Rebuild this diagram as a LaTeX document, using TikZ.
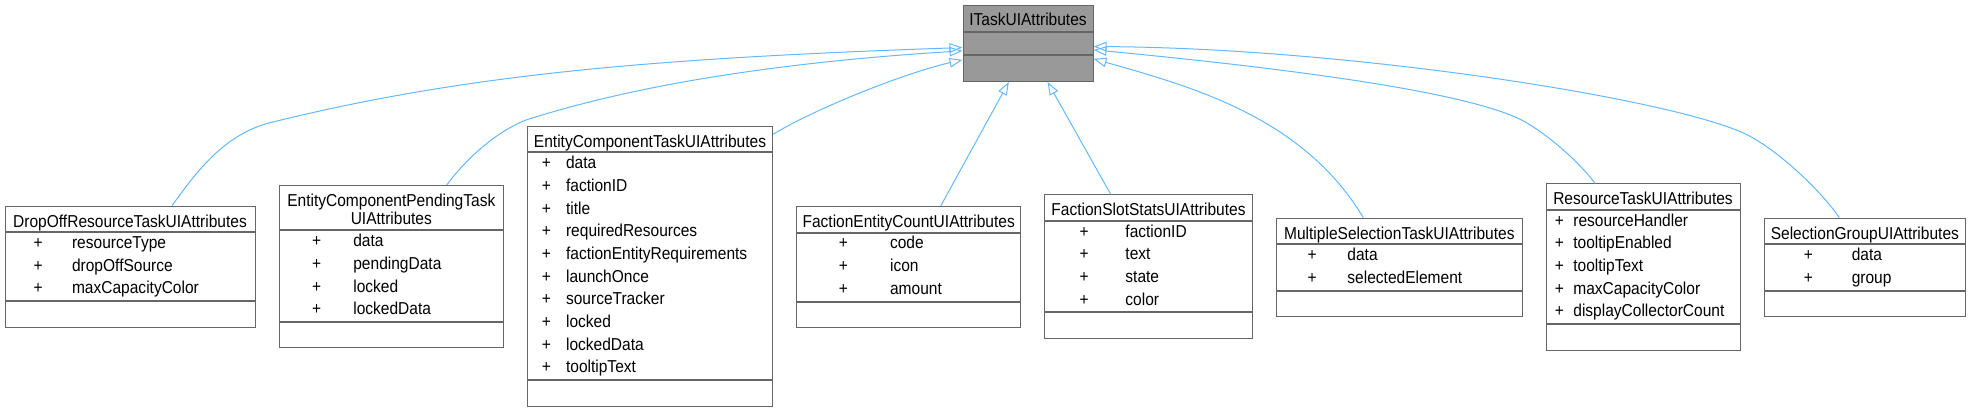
\documentclass[tikz,border=0pt]{standalone}
\usepackage{fontspec}
\setmainfont{Liberation Sans}[FakeStretch=0.9]
\usepackage{xcolor}
\usepackage{tikz}
\usetikzlibrary{arrows.meta}

\definecolor{edgeblue}{HTML}{63B8FF}
\definecolor{boxline}{HTML}{666666}
\definecolor{basegray}{HTML}{999999}

\begin{document}
\begin{tikzpicture}[
    x=1pt, y=-1pt,
    box/.style={rectangle, draw=boxline, fill=white, line width=1pt, inner sep=0pt, anchor=north},
    title/.style={box, align=center, text height=21pt, text depth=4.5pt, font=\fontsize{17.25}{17.6}\selectfont},
    attrs/.style={box, align=left, font=\fontsize{17.25}{22.67}\selectfont},
    ops/.style={box, minimum height=25.5pt},
    rel/.style={-{Triangle[open, length=13pt, width=9.5pt]}, line width=1pt, draw=edgeblue},
]
    \useasboundingbox (0,0) rectangle (1971,409);

    % ITaskUIAttributes (base class)
    \node[title, text width=130pt, fill=basegray, text height=20.5pt, text depth=5.5pt] (it) at (1028,5) {ITaskUIAttributes};
    \node[box, text width=130pt, fill=basegray, minimum height=21.7pt] (ia) at (it.south) {};
    \node[box, text width=130pt, fill=basegray, minimum height=26.3pt] (im) at (ia.south) {};

    % DropOffResourceTaskUIAttributes
    \node[title, text width=250pt] (dt) at (130,205.7) {DropOffResourceTaskUIAttributes};
    \node[attrs, text width=250pt] (da) at (dt.south) {\begin{tabular}{@{\hspace{28.5pt}}c@{\hspace{29.5pt}}l@{}}
        + & resourceType\\ + & dropOffSource\\ + & maxCapacityColor\end{tabular}};
    \node[ops, text width=250pt] (dm) at (da.south) {};

    % EntityComponentPendingTaskUIAttributes
    \node[title, text width=224pt, text depth=23.3pt] (pt) at (391.3,185) {EntityComponentPendingTask\\UIAttributes};
    \node[attrs, text width=224pt] (pa) at (pt.south) {\begin{tabular}{@{\hspace{32.9pt}}c@{\hspace{32.1pt}}l@{}}
        + & data\\ + & pendingData\\ + & locked\\ + & lockedData\end{tabular}};
    \node[ops, text width=224pt] (pm) at (pa.south) {};

    % EntityComponentTaskUIAttributes
    \node[title, text width=245.4pt] (et) at (650,126) {EntityComponentTaskUIAttributes};
    \node[attrs, text width=245.4pt] (ea) at (et.south) {\begin{tabular}{@{\hspace{14.5pt}}c@{\hspace{15.2pt}}l@{}}
        + & data\\ + & factionID\\ + & title\\ + & requiredResources\\ + & factionEntityRequirements\\
        + & launchOnce\\ + & sourceTracker\\ + & locked\\ + & lockedData\\ + & tooltipText\end{tabular}};
    \node[ops, text width=245.4pt] (em) at (ea.south) {};

    % FactionEntityCountUIAttributes
    \node[title, text width=224pt] (ft) at (908.7,206) {FactionEntityCountUIAttributes};
    \node[attrs, text width=224pt] (fa) at (ft.south) {\begin{tabular}{@{\hspace{42.1pt}}c@{\hspace{42.2pt}}l@{}}
        + & code\\ + & icon\\ + & amount\end{tabular}};
    \node[ops, text width=224pt] (fm) at (fa.south) {};

    % FactionSlotStatsUIAttributes
    \node[title, text width=207.6pt] (st) at (1148.5,194.3) {FactionSlotStatsUIAttributes};
    \node[attrs, text width=207.6pt] (sa) at (st.south) {\begin{tabular}{@{\hspace{34.8pt}}c@{\hspace{36.9pt}}l@{}}
        + & factionID\\ + & text\\ + & state\\ + & color\end{tabular}};
    \node[ops, text width=207.6pt] (sm) at (sa.south) {};

    % MultipleSelectionTaskUIAttributes
    \node[title, text width=245.3pt] (mt) at (1399.35,217.7) {MultipleSelectionTaskUIAttributes};
    \node[attrs, text width=245.3pt] (ma) at (mt.south) {\begin{tabular}{@{\hspace{30.8pt}}c@{\hspace{30.9pt}}l@{}}
        + & data\\ + & selectedElement\end{tabular}};
    \node[ops, text width=245.3pt] (mm) at (ma.south) {};

    % ResourceTaskUIAttributes
    \node[title, text width=194pt] (rt) at (1643,183.3) {ResourceTaskUIAttributes};
    \node[attrs, text width=194pt] (ra) at (rt.south) {\begin{tabular}{@{\hspace{8.8pt}}c@{\hspace{9.5pt}}l@{}}
        + & resourceHandler\\ + & tooltipEnabled\\ + & tooltipText\\ + & maxCapacityColor\\ + & displayCollectorCount\end{tabular}};
    \node[ops, text width=194pt] (rm) at (ra.south) {};

    % SelectionGroupUIAttributes
    \node[title, text width=201.7pt] (gt) at (1864.85,217.7) {SelectionGroupUIAttributes};
    \node[attrs, text width=201.7pt] (ga) at (gt.south) {\begin{tabular}{@{\hspace{39.8pt}}c@{\hspace{38.9pt}}l@{}}
        + & data\\ + & group\end{tabular}};
    \node[ops, text width=201.7pt] (gm) at (ga.south) {};

    % Inheritance
    \draw[rel] ([xshift=42pt]dt.north) .. controls (197,171) and (224,135) .. (269,123)
        .. controls (469,73) and (663,58) .. ([yshift=-4.2pt]ia.west);
    \draw[rel] ([xshift=55.4pt]pt.north) .. controls (466.7,158) and (496,132) .. (526,120)
        .. controls (626,88) and (763,63.3) .. ([yshift=-7.5pt]ia.west);
    \draw[rel] ([yshift=5pt]et.east) .. controls (812.7,110) and (903,73.3) .. ([yshift=-16.5pt]ia.west);
    \draw[rel] ([xshift=32pt]ft.north) -- ([xshift=-19.2pt]im.south);
    \draw[rel] ([xshift=-37.8pt]st.north) -- ([xshift=19.6pt]im.south);
    \draw[rel] ([xshift=-36pt]mt.north) .. controls (1303.3,117.7) and (1194,87.3) .. ([yshift=-15.5pt]ia.east);
    \draw[rel] ([xshift=-48pt]rt.north) .. controls (1580,163.3) and (1552,138) .. (1527,123)
        .. controls (1477,93) and (1294,69) .. ([yshift=-6.5pt]ia.east);
    \draw[rel] ([xshift=-25.5pt]gt.north) .. controls (1819,188) and (1774,147) .. (1744,133.3)
        .. controls (1664,97) and (1344,48) .. ([yshift=-3.2pt]ia.east);
\end{tikzpicture}
\end{document}
